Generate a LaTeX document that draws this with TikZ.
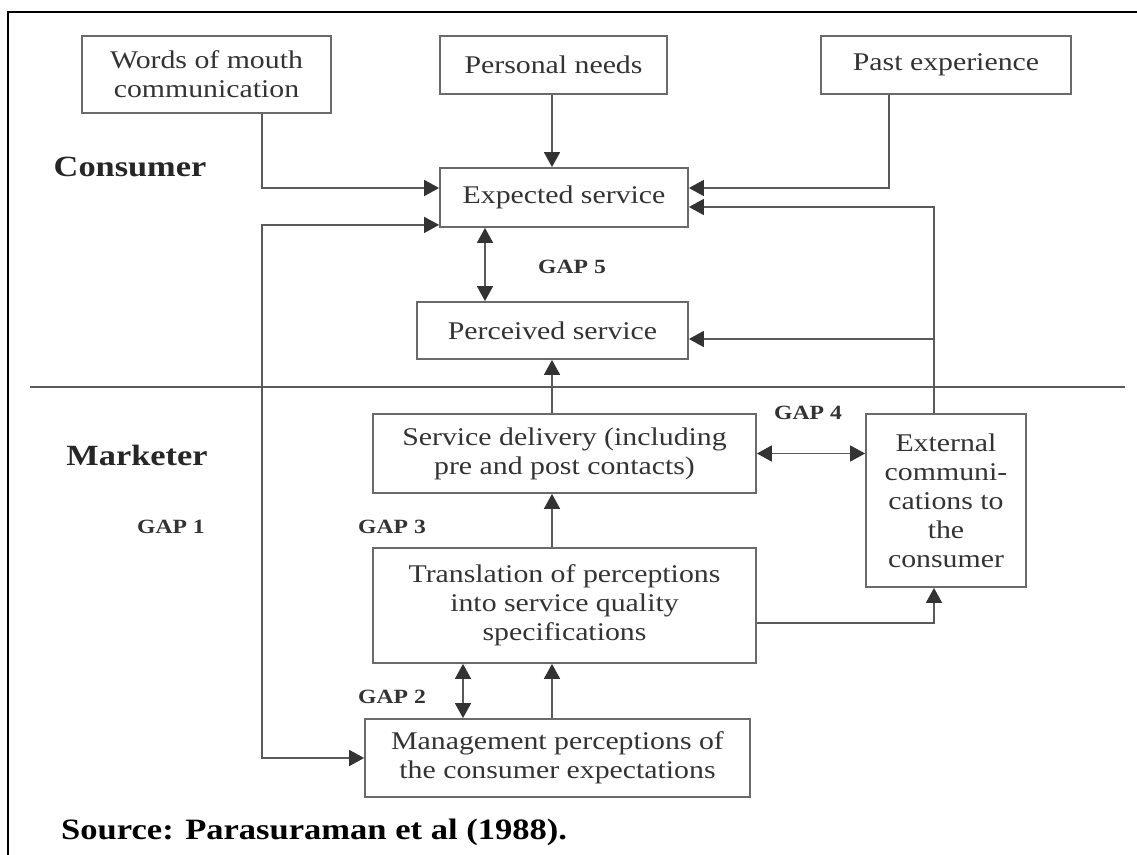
\documentclass[tikz,border=0pt]{standalone}
\usepackage{fontspec}
\setmainfont{Liberation Serif}[FakeStretch=1.17]
\usepackage{xcolor}
\usetikzlibrary{arrows.meta}
\definecolor{linegray}{HTML}{5A5A5A}
\definecolor{boxgray}{HTML}{6A6A6A}
\definecolor{tipgray}{HTML}{333333}
\definecolor{textgray}{HTML}{333333}
\newcommand{\boxfont}{\fontsize{14.5}{16.5}\selectfont}
\newcommand{\sidefont}{\bfseries\fontsize{16.7}{18}\selectfont}
\newcommand{\gapfont}{\bfseries\fontsize{11.5}{13}\selectfont}
\newcommand{\srcfont}{\bfseries\fontsize{16.8}{18}\selectfont}

\begin{document}
\begin{tikzpicture}[x=0.02cm, y=-0.02cm,
    box/.style={draw=boxgray, line width=1.05pt, inner sep=0pt, align=center, text=textgray, font=\boxfont},
    arr/.style={draw=linegray, line width=0.95pt, -{Triangle[length=0.3cm, width=0.32cm, color=tipgray]}},
    dbl/.style={draw=linegray, line width=0.95pt, {Triangle[length=0.3cm, width=0.32cm, color=tipgray]}-{Triangle[length=0.3cm, width=0.32cm, color=tipgray]}},
    side/.style={font=\sidefont, text=black!85},
    gap/.style={font=\gapfont, text=black!80}]
    \useasboundingbox (0,0) rectangle (1137,855);

    % Frame and the consumer / marketer divide
    \draw[line width=1.3pt, black] (8,855) -- (8,12) -- (1137,12);
    \draw[linegray, line width=0.95pt] (30,387) -- (1125,387);

    % Consumer side
    \node[box, minimum width=4.98cm, minimum height=1.54cm] (words) at (206.5,74.5) {Words of mouth\\communication};
    \node[box, minimum width=4.54cm, minimum height=1.16cm] (needs) at (553.5,65) {Personal needs};
    \node[box, minimum width=5cm, minimum height=1.16cm] (past) at (946,65) {Past experience};
    \node[box, minimum width=4.96cm, minimum height=1.18cm] (expected) at (564,197.5) {Expected service};
    \node[box, minimum width=5.42cm, minimum height=1.14cm] (perceived) at (552.5,330.5) {Perceived service};

    % Marketer side
    \node[box, minimum width=7.66cm, minimum height=1.58cm] (delivery) at (564.5,453.5) {Service delivery (including\\pre and post contacts)};
    \node[box, minimum width=3.2cm, minimum height=3.46cm] (extcomm) at (946,500.5) {External\\communi-\\cations to\\the\\consumer};
    \node[box, minimum width=7.66cm, minimum height=2.3cm] (transl) at (564.5,605.5) {Translation of perceptions\\into service quality\\specifications};
    \node[box, minimum width=7.7cm, minimum height=1.56cm] (mgmt) at (557.5,758) {Management perceptions of\\the consumer expectations};

    % Labels
    \node[side] (consumer) at (130,167) {Consumer};
    \node[side] (marketer) at (137,455) {Marketer};
    \node[gap] (gap1) at (171,527) {GAP 1};
    \node[gap] (gap2) at (392,697) {GAP 2};
    \node[gap] (gap3) at (392,527) {GAP 3};
    \node[gap] (gap4) at (808,413) {GAP 4};
    \node[gap] (gap5) at (572,267) {GAP 5};
    \node[anchor=west, font=\srcfont] (source) at (55,832) {Source: Parasuraman et al (1988).};

    % Rails for the connectors
    \coordinate (leftrail) at (262,0);
    \coordinate (pastrail) at (889,0);
    \coordinate (rightrail) at (934,0);
    \coordinate (midrail) at (552,0);
    \coordinate (gapfive) at (485,0);
    \coordinate (gaptwo) at (463,0);
    \coordinate (percin) at ([yshift=-0.17cm]perceived.east);

    % Connectors
    \draw[arr] (words.south -| leftrail) |- ([yshift=0.19cm]expected.west);
    \draw[arr] (needs.south -| midrail) -- (expected.north -| midrail);
    \draw[arr] (past.south -| pastrail) |- ([yshift=0.19cm]expected.east);
    \draw[arr] (extcomm.north -| rightrail) |- ([yshift=-0.19cm]expected.east);
    \draw[arr] (rightrail |- percin) -- (percin);
    \draw[dbl] (expected.south -| gapfive) -- (perceived.north -| gapfive);
    \draw[dbl] ([yshift=0.06cm]expected.south west) -| (leftrail |- mgmt.west) -- (mgmt.west);
    \draw[arr] (delivery.north -| midrail) -- (perceived.south -| midrail);
    \draw[dbl] (delivery.east) -- (delivery.east -| extcomm.west);
    \draw[arr] (transl.north -| midrail) -- (delivery.south -| midrail);
    \draw[arr] (mgmt.north -| midrail) -- (transl.south -| midrail);
    \draw[dbl] (transl.south -| gaptwo) -- (mgmt.north -| gaptwo);
    \draw[arr] ([yshift=-0.35cm]transl.east) -| (extcomm.south -| rightrail);
\end{tikzpicture}
\end{document}
